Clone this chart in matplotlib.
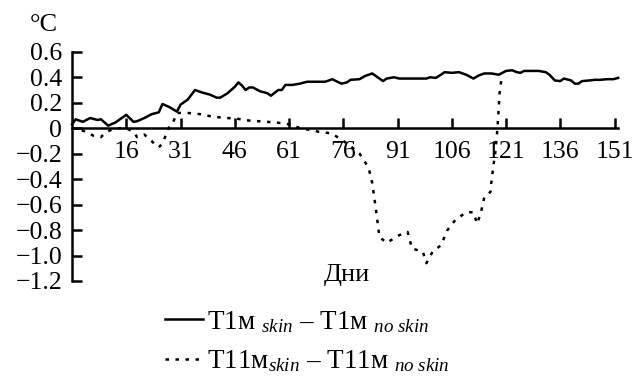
import matplotlib
matplotlib.use("Agg")
import matplotlib.pyplot as plt

plt.rcParams['font.family'] = ['Liberation Serif', 'DejaVu Serif']
plt.rcParams['mathtext.fontset'] = 'custom'
plt.rcParams['mathtext.rm'] = 'Liberation Serif'
plt.rcParams['mathtext.it'] = 'Liberation Serif:italic'

# T1м skin - no skin (сплошная)
dni1 = [1, 2, 4, 6, 8, 9, 10, 11, 13, 14, 16, 18, 19, 21, 23, 25, 26, 28, 30, 31,
        33, 35, 37, 39, 41, 42, 44, 46, 47, 48, 49, 50, 51, 53, 55, 56, 58, 59, 60,
        62, 64, 66, 69, 71, 72, 73, 74, 75.5, 77, 78, 80.5, 82, 84, 85, 87, 88, 90,
        91.5, 99, 100, 101.6, 103, 104, 106, 108, 110, 112, 113.5, 115, 117, 119,
        120, 121, 122.7, 124, 125, 126, 128, 130, 132, 133, 134.5, 136, 137, 139,
        140, 141, 142, 144, 145.6, 147, 149, 150.7, 152]
t1 = [0.03, 0.07, 0.05, 0.08, 0.065, 0.07, 0.045, 0.02, 0.045, 0.065, 0.105, 0.05,
      0.055, 0.08, 0.11, 0.125, 0.19, 0.165, 0.13, 0.185, 0.225, 0.30, 0.28, 0.265,
      0.24, 0.24, 0.275, 0.325, 0.36, 0.335, 0.30, 0.32, 0.32, 0.29, 0.275, 0.255,
      0.30, 0.30, 0.34, 0.34, 0.35, 0.365, 0.365, 0.365, 0.375, 0.385, 0.37, 0.35,
      0.36, 0.38, 0.385, 0.41, 0.43, 0.41, 0.37, 0.39, 0.40, 0.39, 0.39, 0.40,
      0.395, 0.42, 0.44, 0.435, 0.44, 0.42, 0.39, 0.415, 0.43, 0.43, 0.42, 0.435,
      0.45, 0.455, 0.44, 0.435, 0.45, 0.45, 0.45, 0.44, 0.42, 0.375, 0.37, 0.39,
      0.375, 0.35, 0.35, 0.37, 0.375, 0.38, 0.38, 0.385, 0.385, 0.395]

# T11м skin - no skin (пунктир)
dni11 = [1, 3, 5, 7, 9, 10, 12, 14, 16, 18, 19, 21, 23, 24, 25, 26, 27, 28, 29, 30,
         33, 36.5, 40, 44, 46.5, 50, 55, 59, 62, 64, 67, 69.5, 72.7, 75.5, 78,
         80.5, 83, 84, 85, 86, 88, 91.5, 93.8, 95, 98, 99, 100.7, 103, 104.8, 107,
         110, 112, 113, 114, 115, 116.7, 117, 117.6, 118, 118.6, 119, 119.3, 120]
t11 = [0.0, -0.01, -0.03, -0.06, -0.07, -0.04, -0.01, 0.0, 0.0, -0.03, -0.07, -0.05,
       -0.1, -0.13, -0.15, -0.12, -0.05, 0.02, 0.05, 0.12, 0.12, 0.11, 0.09, 0.08,
       0.075, 0.06, 0.05, 0.04, 0.025, 0.0, -0.015, -0.03, -0.04, -0.09, -0.14,
       -0.2, -0.31, -0.43, -0.63, -0.855, -0.90, -0.84, -0.815, -0.945, -0.97, -1.06,
       -0.97, -0.92, -0.80, -0.72, -0.66, -0.66, -0.75, -0.67, -0.54, -0.50, -0.41,
       -0.275, -0.2, -0.01, 0.17, 0.315, 0.42]

xtiki = [16, 31, 46, 61, 76, 91, 106, 121, 136, 151]
ytiki = [-1.2, -1.0, -0.8, -0.6, -0.4, -0.2, 0, 0.2, 0.4, 0.6]
ypodpisy = ['−1.2', '−1.0', '−0.8', '−0.6', '−0.4', '−0.2', '0', '0.2', '0.4', '0.6']

fig = plt.figure(figsize=(6.34, 3.81), dpi=100)
ax = fig.add_axes([0.1136, 0.2625, 0.975 - 0.1136, 0.864 - 0.2625])

ax.plot(dni1, t1, color='black', lw=1.8, label=r'T1м $_{\mathit{skin}}$ – T1м $_{\mathit{no\ skin}}$',
        clip_on=False)
ax.plot(dni11, t11, color='black', lw=1.8, ls=(0, (1.4, 2.6)),
        label=r'T11м$_{\mathit{skin}}$ – T11м $_{\mathit{no\ skin}}$', clip_on=False)

ax.set_xlim(1, 152)
ax.set_ylim(-1.2, 0.6)
ax.spines['top'].set_visible(False)
ax.spines['right'].set_visible(False)
ax.spines['bottom'].set_position(('data', 0))
ax.spines['left'].set_linewidth(1.8)
ax.spines['bottom'].set_linewidth(1.8)

ax.set_xticks(xtiki)
ax.set_yticks(ytiki)
ax.set_yticklabels(ypodpisy)
ax.tick_params(axis='both', direction='in', length=7, width=1.8, labelsize=18.5)
ax.tick_params(axis='x', pad=9)
ax.tick_params(axis='y', pad=7)

fig.text(44 / 634, 1 - 25 / 381, '°C', ha='center', va='center', fontsize=19)
fig.text(347 / 634, 1 - 275 / 381, 'Дни', ha='center', va='center', fontsize=19)

fig.legend(loc='upper left', bbox_to_anchor=(165 / 634, 1 - 309 / 381), frameon=False,
           fontsize=19.5, handlelength=1.4, handletextpad=0.15, borderpad=0,
           borderaxespad=0, labelspacing=0.5)

fig.savefig('out.png', dpi=100)
